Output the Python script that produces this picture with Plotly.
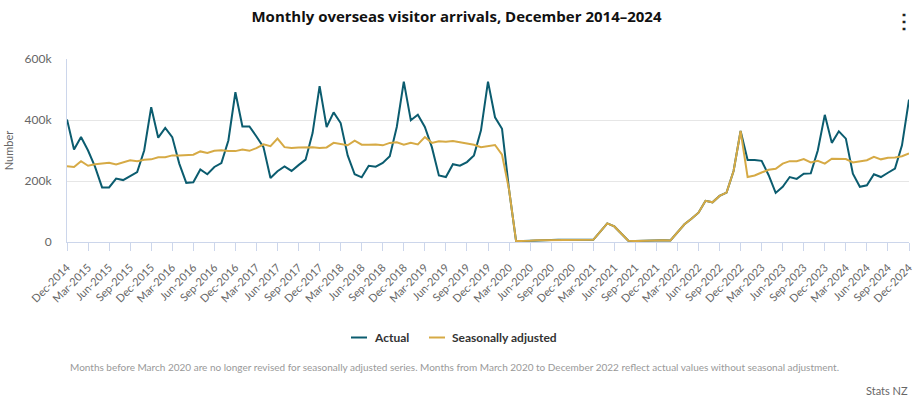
import pandas as pd
import plotly.graph_objects as go

months = [d.strftime("%b-%Y") for d in pd.date_range("2014-12-01", "2024-12-01", freq="MS")]

actual_k = [
    402, 303, 344, 300, 246, 179, 179, 208, 203, 217, 229, 300,
    442, 342, 374, 344, 257, 194, 196, 238, 222, 246, 259, 333,
    491, 379, 379, 346, 311, 210, 232, 248, 233, 252, 270, 357,
    511, 377, 425, 390, 284, 222, 212, 250, 247, 259, 281, 377,
    526, 399, 417, 377, 311, 218, 213, 255, 250, 262, 284, 366,
    526, 409, 371, 172, 3, 3, 4, 6, 6, 6, 7, 7,
    7, 7, 6, 7, 34, 61, 51, 27, 4, 3, 4, 5,
    6, 6, 5, 33, 58, 76, 96, 135, 130, 151, 162, 233,
    364, 269, 269, 266, 219, 161, 181, 213, 207, 224, 225, 300,
    417, 325, 363, 339, 224, 181, 186, 222, 213, 227, 241, 317,
    467,
]

seasonal_k = [
    248, 246, 265, 250, 255, 257, 260, 254, 261, 268, 265, 270,
    271, 278, 278, 284, 284, 286, 286, 297, 292, 299, 301, 298,
    298, 303, 299, 308, 320, 314, 339, 311, 308, 310, 310, 311,
    308, 310, 325, 322, 317, 332, 319, 319, 320, 317, 325, 327,
    319, 325, 320, 344, 325, 330, 329, 331, 327, 325, 319, 311,
    315, 318, 286, 172, 3, 3, 4, 6, 6, 6, 7, 7,
    7, 7, 6, 7, 34, 61, 51, 27, 4, 3, 4, 5,
    6, 6, 5, 33, 58, 76, 96, 135, 130, 151, 162, 233,
    364, 213, 218, 228, 237, 240, 257, 265, 265, 272, 261, 266,
    257, 273, 273, 272, 261, 265, 268, 279, 271, 276, 277, 281,
    290,
]

series_names = ["Actual", "Seasonally adjusted"]

actual = [v * 1000 for v in actual_k]
seasonal = [v * 1000 for v in seasonal_k]

y_tickvals = [0, 200000, 400000, 600000]
y_ticktext = ["0", "200k", "400k", "600k"]
x_tickvals = list(range(0, len(months), 3))
x_ticktext = [months[i] for i in x_tickvals]

TEAL = "#0b5c6f"
GOLD = "#d6aa45"
FONT = "Lato, 'Open Sans', sans-serif"

fig = go.Figure()
for name, vals, col in zip(series_names, [actual, seasonal], [TEAL, GOLD]):
    fig.add_trace(go.Scatter(
        x=list(range(len(months))), y=vals, mode="lines", name=name,
        line=dict(color=col, width=2), customdata=months,
        hovertemplate="%{customdata}<br>" + name + ": %{y:,}<extra></extra>",
    ))

fig.update_layout(
    width=913, height=398,
    margin=dict(l=67, r=4, t=59, b=156, autoexpand=False),
    paper_bgcolor="white", plot_bgcolor="white",
    font=dict(family=FONT, color="#666666"),
    title=dict(
        text="<b>Monthly overseas visitor arrivals, December 2014–2024</b>",
        x=0.5, xref="container", xanchor="center",
        y=0.957, yref="container", yanchor="middle",
        font=dict(family="'Open Sans', sans-serif", size=15, color="#111111"),
    ),
    showlegend=False,
    hovermode="x unified",
)

fig.update_xaxes(
    range=[0, len(months) - 1], tickmode="array", tickvals=x_tickvals, ticktext=x_ticktext,
    tickangle=-45, tickfont=dict(size=11, color="#666666"), ticklabeloverflow="allow",
    ticklabelstandoff=6,
    showgrid=False, zeroline=False, automargin=False,
    showline=True, linecolor="#ccd6eb", linewidth=1,
    ticks="outside", ticklen=8, tickcolor="#ccd6eb",
)
fig.update_yaxes(
    range=[0, 600000], tickmode="array", tickvals=y_tickvals, ticktext=y_ticktext,
    tickfont=dict(size=12, color="#666666"), automargin=False, ticklabelstandoff=12,
    showgrid=True, gridcolor="#e6e6e6", gridwidth=1, zeroline=False,
    showline=True, linecolor="#ccd6eb", linewidth=1,
    title=dict(text="Number", font=dict(size=11, color="#666666"), standoff=8),
)

# legend drawn below the plot (pixel positions converted to paper coordinates)
PL, PW, PB, PH = 67, 842, 242, 183


def px(X):
    return (X - PL) / PW


def py(Y):
    return (PB - Y) / PH


legend_items = [(351, 367, 372), (429, 445, 450)]
for (x0, x1, xt), name, col in zip(legend_items, series_names, [TEAL, GOLD]):
    fig.add_shape(type="line", xref="paper", yref="paper",
                  x0=px(x0), x1=px(x1), y0=py(337.5), y1=py(337.5),
                  line=dict(color=col, width=2))
    fig.add_annotation(text="<b>" + name + "</b>", xref="paper", yref="paper",
                       x=px(xt), y=py(337.5), xanchor="left", yanchor="middle",
                       showarrow=False, font=dict(family=FONT, size=12, color="#333333"))

fig.add_annotation(
    text="Months before March 2020 are no longer revised for seasonally adjusted series. "
         "Months from March 2020 to December 2022 reflect actual values without seasonal adjustment.",
    xref="paper", yref="paper", x=px(68), y=py(367), xanchor="left", yanchor="middle",
    showarrow=False, font=dict(size=10, color="#999999"),
)
fig.add_annotation(
    text="Stats NZ", xref="paper", yref="paper", x=px(910), y=py(390),
    xanchor="right", yanchor="middle", showarrow=False,
    font=dict(size=11, color="#666666"),
)
fig.add_annotation(
    text="<b>⋮</b>", xref="paper", yref="paper", x=px(904), y=py(20),
    xanchor="center", yanchor="middle", showarrow=False,
    font=dict(size=20, color="#222222"),
)

fig.write_html(
    "out.html",
    config={"displayModeBar": False},
    post_script="document.body.style.margin='0';document.body.style.overflow='hidden';",
)
